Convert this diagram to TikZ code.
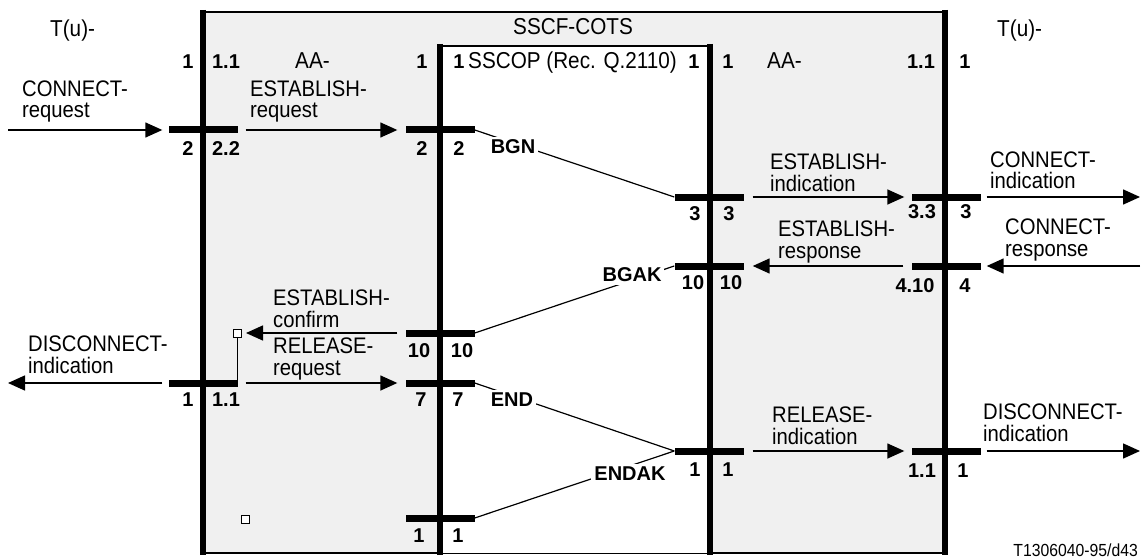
\documentclass[tikz,border=0pt]{standalone}
\usepackage{fontspec}
\setmainfont{Liberation Sans}
\newfontfamily\condsans{Liberation Sans}[FakeStretch=0.9]
\usetikzlibrary{arrows.meta}
\definecolor{bggray}{RGB}{240,240,240}
\begin{document}
\begin{tikzpicture}[x=1pt,y=-1pt,
 bar/.style={rectangle,fill=black,inner sep=0pt,minimum width=69pt,minimum height=7pt},
 vline/.style={line width=6.5pt},
 arr/.style={line width=1.5pt,-{Triangle[length=17pt,width=15pt]}},
 num/.style={font=\fontsize{20}{20}\selectfont\bfseries,inner sep=0pt},
 txt/.style={font=\condsans\fontsize{23}{23}\selectfont,inner sep=0pt,anchor=base west},
 two/.style={font=\condsans\fontsize{22.5}{21.5}\selectfont,inner sep=0pt,anchor=base west,align=left},
 sig/.style={font=\fontsize{20}{20}\selectfont\bfseries,fill=white,inner sep=3pt},
 diag/.style={line width=1.2pt},
 sq/.style={draw,line width=1pt,fill=white,minimum size=8pt,inner sep=0pt}
]
\useasboundingbox (0,0) rectangle (1146,559);
% boxes
\fill[bggray] (203,12) rectangle (945,553);
\draw[line width=1.5pt] (203,12) -- (948,12);
\draw[line width=2pt] (203,553) -- (948,553);
\fill[white] (440,46) rectangle (710,553);
\draw[line width=1.5pt] (440,46) -- (710,46);
\draw[vline] (203,10) -- (203,555);
\draw[vline] (440,44) -- (440,555);
\draw[vline] (710,44) -- (710,555);
\draw[vline] (945,10) -- (945,555);
% bars
\node[bar] (bA1) at (203,130) {};
\node[bar] (bA2) at (440,130) {};
\node[bar] (bB3) at (709,197) {};
\node[bar] (bB4) at (946,197) {};
\node[bar] (bC3) at (709,266) {};
\node[bar] (bC4) at (946,266) {};
\node[bar] (bD2) at (440,333) {};
\node[bar] (bE1) at (203,383) {};
\node[bar] (bE2) at (440,383) {};
\node[bar] (bF3) at (709,451) {};
\node[bar] (bF4) at (946,451) {};
\node[bar] (bG2) at (440,518) {};
% free ends
\coordinate (inCR) at (8,130);
\coordinate (outCI) at (1140,197);
\coordinate (inCS) at (1140,266);
\coordinate (outDL) at (8,383);
\coordinate (outDR) at (1140,451);
% squares
\node[sq] (sq1) at (237.5,333) {};
\node[sq] (sq2) at (245,519) {};
% arrows
\draw[arr] (inCR) -- ([xshift=-6pt]bA1.west);
\draw[arr] ([xshift=8pt]bA1.east) -- ([xshift=-8pt]bA2.west);
\draw[arr] ([xshift=9pt]bB3.east) -- ([xshift=-7pt]bB4.west);
\draw[arr] ([xshift=6pt]bB4.east) -- (outCI);
\draw[arr] ([xshift=-8pt]bC4.west) -- ([xshift=9pt]bC3.east);
\draw[arr] (inCS) -- ([xshift=6pt]bC4.east);
\draw[arr] ([xshift=-8pt]bD2.west) -- ([xshift=4pt]sq1.east);
\draw[line width=1.5pt] (sq1.south) -- (sq1.south |- bE1.east);
\draw[arr] ([xshift=-6pt]bE1.west) -- (outDL);
\draw[arr] ([xshift=8pt]bE1.east) -- ([xshift=-8pt]bE2.west);
\draw[arr] ([xshift=9pt]bF3.east) -- ([xshift=-7pt]bF4.west);
\draw[arr] ([xshift=6pt]bF4.east) -- (outDR);
% diagonal PDU lines
\draw[diag] (bA2.east) -- (bB3.west);
\draw[diag] (bC3.west) -- (bD2.east);
\draw[diag] (bE2.east) -- (bF3.west);
\draw[diag] (bG2.east) -- (bF3.west);
\node[sig] (bgn) at (513,147) {BGN};
\node[sig] (bgak) at (632,275) {BGAK};
\node[sig] (endn) at (512,400) {END};
\node[sig] (endak) at (630,474) {ENDAK};
% titles
\node[txt] (tuL) at (50,37) {T(u)-};
\node[txt] (tuR) at (997,37) {T(u)-};
\node[txt,anchor=base] (sscf) at (573,35) {SSCF-COTS};
\node[txt] (aaL) at (295,69) {AA-};
\node[txt] (aaR) at (767,69) {AA-};
\node[txt] (sscop) at (468,69) {SSCOP (Rec. Q.2110)};
% numbers
\node[num] (n1) at (188,62) {1};
\node[num] (n2) at (226,62) {1.1};
\node[num] (n3) at (422,62) {1};
\node[num] (n4) at (459,62) {1};
\node[num] (n5) at (694,62) {1};
\node[num] (n6) at (728,62) {1};
\node[num] (n7) at (921,62) {1.1};
\node[num] (n8) at (965,62) {1};
\node[num] (n9) at (188,149) {2};
\node[num] (n10) at (226,149) {2.2};
\node[num] (n11) at (422,149) {2};
\node[num] (n12) at (459,149) {2};
\node[num] (n13) at (695,214) {3};
\node[num] (n14) at (729,214) {3};
\node[num] (n15) at (922,212) {3.3};
\node[num] (n16) at (966,212) {3};
\node[num] (n17) at (693,283) {10};
\node[num] (n18) at (731,283) {10};
\node[num] (n19) at (915,286) {4.10};
\node[num] (n20) at (965,286) {4};
\node[num] (n21) at (419,351) {10};
\node[num] (n22) at (462,351) {10};
\node[num] (n23) at (188,400) {1};
\node[num] (n24) at (226,400) {1.1};
\node[num] (n25) at (421,400) {7};
\node[num] (n26) at (458,400) {7};
\node[num] (n27) at (695,470) {1};
\node[num] (n28) at (728,470) {1};
\node[num] (n29) at (922,471) {1.1};
\node[num] (n30) at (963,471) {1};
\node[num] (n31) at (419,536) {1};
\node[num] (n32) at (458,536) {1};
% primitive labels (baseline of last line given)
\node[two] (t1) at (22,118) {CONNECT-\\request};
\node[two] (t2) at (250,118) {ESTABLISH-\\request};
\node[two] (t3) at (770,191) {ESTABLISH-\\indication};
\node[two] (t4) at (990,189) {CONNECT-\\indication};
\node[two] (t5) at (778,258) {ESTABLISH-\\response};
\node[two] (t6) at (1005,256) {CONNECT-\\response};
\node[two] (t7) at (273,327) {ESTABLISH-\\confirm};
\node[two] (t8) at (28,373) {DISCONNECT-\\indication};
\node[two] (t9) at (273,375) {RELEASE-\\request};
\node[two] (t10) at (772,444) {RELEASE-\\indication};
\node[two] (t11) at (983,441) {DISCONNECT-\\indication};
\node[font=\condsans\fontsize{17.5}{17.5}\selectfont,inner sep=0pt,anchor=base east] (ref) at (1138,556) {T1306040-95/d43};
\end{tikzpicture}
\end{document}
